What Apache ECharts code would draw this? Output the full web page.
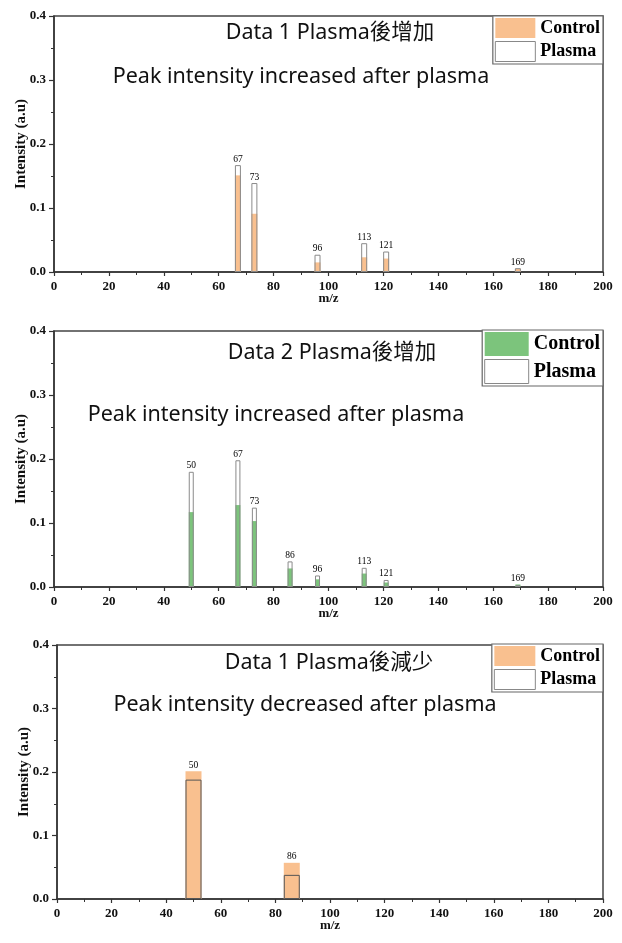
<!DOCTYPE html>
<html>
<head>
<meta charset="utf-8">
<script src="https://cdn.jsdelivr.net/npm/echarts@6/dist/echarts.min.js"></script>
<style>html,body{margin:0;padding:0;background:#fff;}#c{width:622px;height:943px;}</style>
</head>
<body>
<div id="c"></div>
<script>
// ---- data ----
const p1MZ = [67, 73, 96, 113, 121, 169];
const p1Control = [0.151, 0.091, 0.015, 0.023, 0.021, 0.005];
const p1Plasma = [0.167, 0.139, 0.027, 0.045, 0.032, 0.006];

const p2MZ = [50, 67, 73, 86, 96, 113, 121, 169];
const p2Control = [0.117, 0.128, 0.103, 0.029, 0.012, 0.021, 0.007, 0.004];
const p2Plasma = [0.180, 0.198, 0.124, 0.040, 0.018, 0.030, 0.011, 0.003];

const p3MZ = [50, 86];
const p3Control = [0.201, 0.057];
const p3Plasma = [0.188, 0.038];

const panelTitles = ['Data 1 Plasma後增加', 'Data 2 Plasma後增加', 'Data 1 Plasma後減少'];
const panelSubtitles = ['Peak intensity increased after plasma', 'Peak intensity increased after plasma', 'Peak intensity decreased after plasma'];
const seriesNames = ['Control', 'Plasma'];
const xName = 'm/z';
const yName = 'Intensity (a.u)';

// ---- styles ----
const ORANGE = '#F9C08F';
const GREEN = '#7CC47C';
const serif = '"Liberation Serif", "Times New Roman", serif';
const sans = '"Noto Sans", "Noto Sans CJK TC", sans-serif';

const panels = [
  { mz: p1MZ, c: p1Control, p: p1Plasma, color: ORANGE, grid: { left: 54, right: 19, top: 16, height: 256 }, barW: 6, pBorder: '#8a8a8a',
    t: [330, 33], s: [301, 77], leg: { top: 16, iw: 40, ih: 20, fs: 18 } },
  { mz: p2MZ, c: p2Control, p: p2Plasma, color: GREEN, grid: { left: 54, right: 19, top: 331, height: 256 }, barW: 5, pBorder: '#8a8a8a',
    t: [332, 353], s: [276, 415], leg: { top: 330, iw: 44, ih: 24, fs: 20 } },
  { mz: p3MZ, c: p3Control, p: p3Plasma, color: ORANGE, grid: { left: 57, right: 19, top: 645, height: 254 }, barW: 16, pBorder: '#555',
    t: [329, 663], s: [305, 705], leg: { top: 644, iw: 41, ih: 20, fs: 18 } }
];

const grid = [], xAxis = [], yAxis = [], series = [], legend = [], graphic = [];

panels.forEach((pn, i) => {
  grid.push(Object.assign({ show: true, borderColor: '#444', borderWidth: 1.5, backgroundColor: '#fff' }, pn.grid));
  xAxis.push({
    type: 'value', gridIndex: i, min: 0, max: 200, interval: 20,
    name: xName, nameLocation: 'middle', nameGap: 20, nameMoveOverlap: false,
    nameTextStyle: { fontFamily: serif, fontWeight: 'bold', fontSize: 13, color: '#111' },
    axisLine: { show: true, onZero: false, lineStyle: { color: '#333', width: 1.5 } },
    axisTick: { show: true, inside: false, length: 4, lineStyle: { color: '#333', width: 1.2 } },
    minorTick: { show: true, splitNumber: 2, length: 3, lineStyle: { color: '#333', width: 1 } },
    splitLine: { show: false },
    axisLabel: { fontFamily: serif, fontWeight: 'bold', fontSize: 13, color: '#111', margin: 8 }
  });
  yAxis.push({
    type: 'value', gridIndex: i, min: 0, max: 0.4, interval: 0.1,
    name: yName, nameLocation: 'middle', nameGap: 25, nameRotate: 90, nameMoveOverlap: false,
    nameTextStyle: { fontFamily: serif, fontWeight: 'bold', fontSize: 15, color: '#111' },
    axisLine: { show: true, lineStyle: { color: '#333', width: 1.5 } },
    axisTick: { show: true, inside: false, length: 5, lineStyle: { color: '#333', width: 1.2 } },
    minorTick: { show: true, splitNumber: 2, length: 3, lineStyle: { color: '#333', width: 1 } },
    splitLine: { show: false },
    axisLabel: { fontFamily: serif, fontWeight: 'bold', fontSize: 13, color: '#111', margin: 8, formatter: v => v.toFixed(1) }
  });
  const lbl = { position: 'top', distance: 1, fontFamily: serif, fontSize: 9.5, color: '#000', formatter: p => p.value[0] };
  series.push({
    name: seriesNames[0], type: 'bar', xAxisIndex: i, yAxisIndex: i, barWidth: pn.barW, barGap: '-100%',
    itemStyle: { color: pn.color },
    label: lbl,
    data: pn.mz.map((m, k) => ({ value: [m, pn.c[k]], label: { show: pn.c[k] >= pn.p[k] } })),
    z: 2
  });
  series.push({
    name: seriesNames[1], type: 'bar', xAxisIndex: i, yAxisIndex: i, barWidth: pn.barW, barGap: '-100%',
    itemStyle: { color: 'rgba(255,255,255,0)', borderColor: pn.pBorder, borderWidth: 1 },
    label: lbl,
    data: pn.mz.map((m, k) => ({ value: [m, pn.p[k]], label: { show: pn.p[k] > pn.c[k] } })),
    z: 3
  });
  legend.push({
    orient: 'vertical', right: 19, top: pn.leg.top, itemWidth: pn.leg.iw, itemHeight: pn.leg.ih, itemGap: 3,
    padding: [2, 3, 2, 2], borderColor: '#666', borderWidth: 1.2, backgroundColor: '#fff',
    selectedMode: false,
    textStyle: { fontFamily: serif, fontWeight: 'bold', fontSize: pn.leg.fs, color: '#000', padding: [0, 0, 0, 0] },
    data: [
      { name: seriesNames[0], icon: 'rect', itemStyle: { color: pn.color, borderWidth: 0 } },
      { name: seriesNames[1], icon: 'rect', itemStyle: { color: '#fff', borderColor: '#888', borderWidth: 1 } }
    ]
  });
  graphic.push({ type: 'text', x: pn.t[0], y: pn.t[1], z: 10,
    style: { text: panelTitles[i], font: '21.5px ' + sans, fill: '#111', align: 'center', verticalAlign: 'middle' } });
  graphic.push({ type: 'text', x: pn.s[0], y: pn.s[1], z: 10,
    style: { text: panelSubtitles[i], font: '21.5px ' + sans, fill: '#111', align: 'center', verticalAlign: 'middle' } });
});

const chart = echarts.init(document.getElementById('c'), null, { renderer: 'canvas' });
chart.setOption({
  backgroundColor: '#fff',
  animation: false,
  grid, xAxis, yAxis, series, legend, graphic
});
</script>
</body>
</html>
